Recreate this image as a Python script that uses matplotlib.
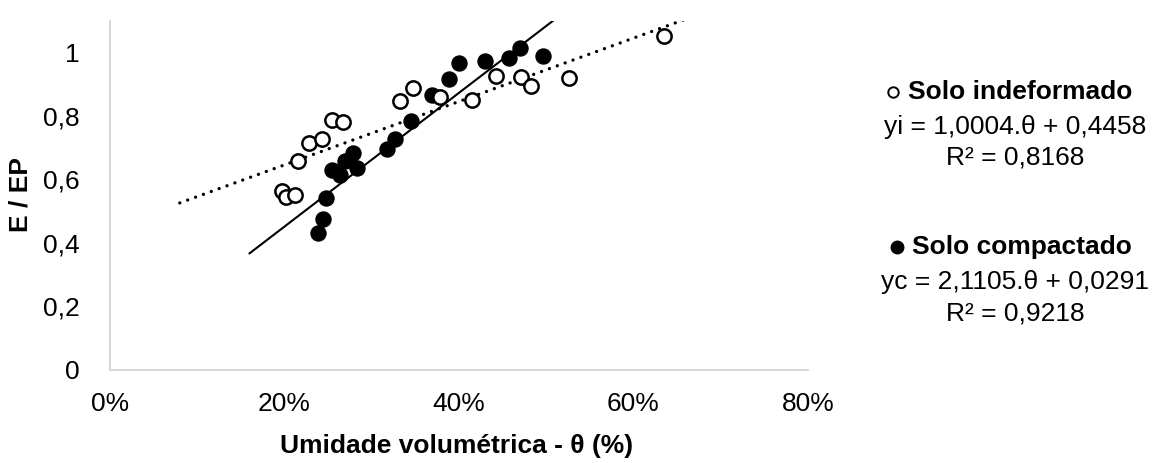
import numpy as np
import matplotlib
matplotlib.use('Agg')
import matplotlib.pyplot as plt
from matplotlib.lines import Line2D

plt.rcParams['font.family'] = ['Liberation Sans', 'DejaVu Sans']

# umidade volumetrica (%) and E/EP
theta_indef = [19.7, 20.2, 21.2, 21.6, 22.8, 24.3, 25.4, 26.7, 33.2, 34.7,
               37.8, 41.5, 44.2, 47.1, 48.3, 52.6, 63.5]
eep_indef = [0.562, 0.546, 0.551, 0.657, 0.715, 0.727, 0.788, 0.780, 0.846, 0.888,
             0.859, 0.852, 0.925, 0.922, 0.896, 0.920, 1.052]

theta_comp = [23.8, 24.4, 24.8, 25.4, 26.4, 26.9, 27.9, 28.3, 31.8, 32.7,
              34.5, 36.9, 38.8, 40.0, 43.0, 45.7, 47.0, 49.6]
eep_comp = [0.430, 0.475, 0.541, 0.630, 0.615, 0.657, 0.683, 0.636, 0.696, 0.727,
            0.785, 0.867, 0.917, 0.969, 0.973, 0.983, 1.015, 0.988]

# trend lines (slope, intercept) and the theta range they span
fit_indef = (1.0004, 0.4458)
fit_comp = (2.1105, 0.0291)
range_indef = (0.08, 0.66)
range_comp = (0.16, 0.52)

yticks = [0, 0.2, 0.4, 0.6, 0.8, 1]
ytick_labels = ['0', '0,2', '0,4', '0,6', '0,8', '1']
xticks = [0, 0.2, 0.4, 0.6, 0.8]
xtick_labels = ['0%', '20%', '40%', '60%', '80%']

fig = plt.figure(figsize=(11.6, 4.63), dpi=100)
ax = fig.add_axes([110 / 1160, 93.5 / 463, 698 / 1160, 348.5 / 463])

x1 = np.linspace(*range_indef, 50)
ax.plot(x1, fit_indef[0] * x1 + fit_indef[1], color='black', lw=2.4,
        linestyle=(0, (0.01, 2.5)), dash_capstyle='round')
x2 = np.linspace(*range_comp, 50)
ax.plot(x2, fit_comp[0] * x2 + fit_comp[1], color='black', lw=1.5)

ax.plot(np.array(theta_comp) / 100, eep_comp, 'o', ms=10.8, mfc='black', mec='black')
ax.plot(np.array(theta_indef) / 100, eep_indef, 'o', ms=10.3, mfc='white', mec='black', mew=1.8)

ax.set_xlim(0, 0.8)
ax.set_ylim(0, 1.1)
ax.set_xticks(xticks)
ax.set_xticklabels(xtick_labels)
ax.set_yticks(yticks)
ax.set_yticklabels(ytick_labels)
ax.tick_params(length=0, labelsize=19, colors='black')
ax.tick_params(axis='x', pad=16)
ax.tick_params(axis='y', pad=22)
for s in ['top', 'right']:
    ax.spines[s].set_visible(False)
for s in ['left', 'bottom']:
    ax.spines[s].set_color('#d0d0d0')
    ax.spines[s].set_linewidth(1.2)

fig.text(20 / 1160, 1 - 195 / 463, 'E / EP', rotation=90, ha='center', va='center',
         fontsize=19, fontweight='bold')
fig.text(457 / 1160, 1 - 446 / 463, 'Umidade volumétrica - θ (%)', ha='center', va='center',
         fontsize=19, fontweight='bold')

# legend block on the right
cx = 1015 / 1160
fig.text(1020 / 1160, 1 - 92 / 463, 'Solo indeformado', ha='center', va='center',
         fontsize=19, fontweight='bold')
fig.text(cx, 1 - 127 / 463, 'yi = 1,0004.θ + 0,4458', ha='center', va='center', fontsize=19)
fig.text(cx, 1 - 158 / 463, 'R² = 0,8168', ha='center', va='center', fontsize=19)
fig.text(1022 / 1160, 1 - 247 / 463, 'Solo compactado', ha='center', va='center',
         fontsize=19, fontweight='bold')
fig.text(cx, 1 - 282 / 463, 'yc = 2,1105.θ + 0,0291', ha='center', va='center', fontsize=19)
fig.text(cx, 1 - 313 / 463, 'R² = 0,9218', ha='center', va='center', fontsize=19)

fig.add_artist(Line2D([893 / 1160], [1 - 92 / 463], marker='o', ms=7.5, mfc='white',
                      mec='black', mew=1.4, transform=fig.transFigure))
fig.add_artist(Line2D([897 / 1160], [1 - 247 / 463], marker='o', ms=9, mfc='black',
                      mec='black', transform=fig.transFigure))

fig.savefig('out.png', dpi=100)
